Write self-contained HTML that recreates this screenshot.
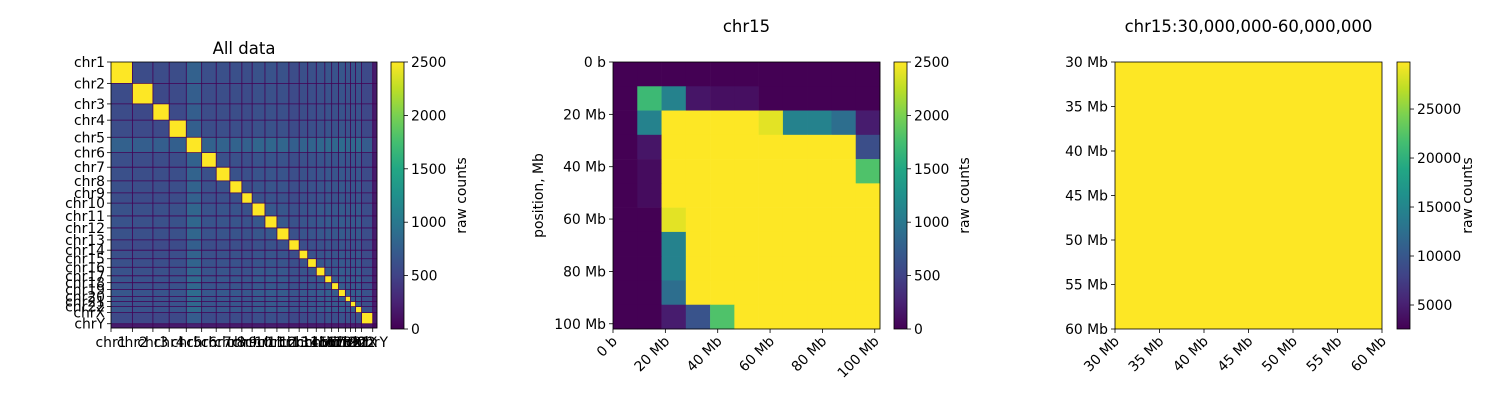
<!DOCTYPE html>
<html><head><meta charset="utf-8"><style>
body{margin:0;background:#fff;}
svg text{font-family:"DejaVu Sans","Liberation Sans",sans-serif;font-size:13.9px;fill:#000;}
</style></head><body>
<svg id="fig" width="1500" height="400" viewBox="0 0 1500 400" xmlns="http://www.w3.org/2000/svg">
<rect width="1500" height="400" fill="#fff"/>
<g id="p1"></g>
<g id="p2"></g>
<g id="p3"></g>
</svg>
<script>
// ---- data ----
const chromNames = ["chr1","chr2","chr3","chr4","chr5","chr6","chr7","chr8","chr9","chr10","chr11","chr12","chr13","chr14","chr15","chr16","chr17","chr18","chr19","chr20","chr21","chr22","chrX","chrY"];
const chromStartsMb = [0,250,490,680,880,1060,1230,1390,1530,1650,1800,1940,2080,2200,2300,2400,2500,2580,2660,2740,2800,2860,2930,3060];
const genomeEndMb = 3110;
const cisCounts = [2500,2500,2500,2500,2500,2500,2500,2500,2500,2500,2500,2500,2500,2500,2500,2500,2500,2500,2500,2500,2500,2500,2500,60];
const transLevel = [600,560,560,580,1000,620,640,640,600,680,700,680,580,640,660,700,760,700,780,740,720,760,540,60];

const chr15Values = [
 [0,0,0,0,0,0,0,0,0,0,0],
 [0,1700,1100,150,100,100,0,0,0,0,0],
 [0,1100,2500,2500,2500,2500,2400,1100,1100,900,200],
 [0,150,2500,2500,2500,2500,2500,2500,2500,2500,600],
 [0,80,2500,2500,2500,2500,2500,2500,2500,2500,1800],
 [0,80,2500,2500,2500,2500,2500,2500,2500,2500,2500],
 [0,0,2400,2500,2500,2500,2500,2500,2500,2500,2500],
 [0,0,1100,2500,2500,2500,2500,2500,2500,2500,2500],
 [0,0,1100,2500,2500,2500,2500,2500,2500,2500,2500],
 [0,0,900,2500,2500,2500,2500,2500,2500,2500,2500],
 [0,0,200,650,1800,2500,2500,2500,2500,2500,2500]];
const chr15EndMb = 102;
const chr15TicksMb = [0,20,40,60,80,100];
const chr15TickLabels = ["0 b","20 Mb","40 Mb","60 Mb","80 Mb","100 Mb"];
const regionValue = 31000;
const regionStartMb = 30, regionEndMb = 60;
const regionTicksMb = [30,35,40,45,50,55,60];
const cb12Ticks = [0,500,1000,1500,2000,2500];
const cb3Ticks = [5000,10000,15000,20000,25000];
const cb3Min = 2550, cb3Max = 29800;

// ---- helpers ----
const NS="http://www.w3.org/2000/svg";
const VIR=[[68,1,84],[72,35,116],[64,67,135],[52,94,141],[41,120,142],[32,144,140],[34,167,132],[68,190,112],[121,209,81],[189,222,38],[253,231,37]];
function viridis(t){t=Math.max(0,Math.min(1,t));const p=t*10,i=Math.min(9,Math.floor(p)),f=p-i;const a=VIR[i],b=VIR[i+1];return `rgb(${a.map((v,k)=>Math.round(v+(b[k]-v)*f)).join(",")})`;}
function el(parent,tag,attrs,text){const e=document.createElementNS(NS,tag);for(const k in attrs)e.setAttribute(k,attrs[k]);if(text!==undefined)e.textContent=text;parent.appendChild(e);return e;}
function colorbar(g,x,y0,y1,vmin,vmax,ticks,name){
  const defsId=name+"-grad";
  const defs=el(g,"defs",{});
  const lg=el(defs,"linearGradient",{id:defsId,x1:0,y1:1,x2:0,y2:0});
  for(let i=0;i<=10;i++)el(lg,"stop",{offset:i/10,"stop-color":viridis(i/10)});
  const r=el(g,"rect",{x:x,y:y0,width:13,height:y1-y0,fill:`url(#${defsId})`,stroke:"#000","stroke-width":0.8});
  
  
  const sc=v=>y1-(v-vmin)/(vmax-vmin)*(y1-y0);
  ticks.forEach(v=>{const yy=sc(v);el(g,"line",{x1:x+13,x2:x+17,y1:yy,y2:yy,stroke:"#000","stroke-width":0.8});
    const t=el(g,"text",{x:x+20,y:yy+5},String(v));
    
    });
  const lab=el(g,"text",{transform:`translate(${x+75},${(y0+y1)/2}) rotate(-90)`,"text-anchor":"middle"},"raw counts");
  
  
}

// ---- panel 1 ----
(function(){
  const g=document.getElementById("p1");
  const L=111,T=62,S=266;
  const sc=m=>m/genomeEndMb*S;
  const n=chromNames.length;
  const end=i=>i+1<n?chromStartsMb[i+1]:genomeEndMb;
  for(let i=0;i<n;i++)for(let j=0;j<n;j++){
    const v=i===j?cisCounts[i]:Math.sqrt(transLevel[i]*transLevel[j]);
    const r=el(g,"rect",{x:L+sc(chromStartsMb[j]),y:T+sc(chromStartsMb[i]),width:sc(end(j)-chromStartsMb[j])+0.3,height:sc(end(i)-chromStartsMb[i])+0.3,fill:viridis(v/2500)});
    
    
  }
  for(let i=1;i<n;i++){const p=sc(chromStartsMb[i]);
    el(g,"line",{x1:L+p,x2:L+p,y1:T,y2:T+S,stroke:"#440154","stroke-width":0.8});
    el(g,"line",{y1:T+p,y2:T+p,x1:L,x2:L+S,stroke:"#440154","stroke-width":0.8});}
  el(g,"rect",{x:L,y:T,width:S,height:S,fill:"none",stroke:"#000","stroke-width":0.8});
  chromNames.forEach((c,i)=>{const p=sc(chromStartsMb[i]);
    el(g,"line",{x1:L-4,x2:L,y1:T+p,y2:T+p,stroke:"#000","stroke-width":0.8});
    const t=el(g,"text",{x:L-6,y:T+p+5,"text-anchor":"end"},c);
    
    
    el(g,"line",{x1:L+p,x2:L+p,y1:T+S,y2:T+S+4,stroke:"#000","stroke-width":0.8});
    const tx=el(g,"text",{x:L+p,y:T+S+19,"text-anchor":"middle"},c);
    
    });
  const ti=el(g,"text",{x:L+S/2,y:54,"text-anchor":"middle",style:"font-size:16.5px"},"All data");
  
  
  colorbar(g,391,62,329,0,2500,cb12Ticks,"colorbar-all");
})();

// ---- panel 2 ----
(function(){
  const g=document.getElementById("p2");
  const L=613,T=62,S=267;
  const sc=m=>m/chr15EndMb*S;
  const n=chr15Values.length, cw=S/n;
  chr15Values.forEach((row,i)=>row.forEach((v,j)=>{
    const r=el(g,"rect",{x:L+j*cw,y:T+i*cw,width:cw+0.3,height:cw+0.3,fill:viridis(v/2500)});
    
    }));
  el(g,"rect",{x:L,y:T,width:S,height:S,fill:"none",stroke:"#000","stroke-width":0.8});
  chr15TicksMb.forEach((m,i)=>{const p=sc(m);
    el(g,"line",{x1:L-4,x2:L,y1:T+p,y2:T+p,stroke:"#000","stroke-width":0.8});
    const t=el(g,"text",{x:L-7,y:T+p+5,"text-anchor":"end"},chr15TickLabels[i]);
    
    
    el(g,"line",{x1:L+p,x2:L+p,y1:T+S,y2:T+S+4,stroke:"#000","stroke-width":0.8});
    const tx=el(g,"text",{transform:`translate(${L+p+5},${T+S+13}) rotate(-45)`,"text-anchor":"end"},chr15TickLabels[i]);
    
    });
  const yl=el(g,"text",{transform:`translate(543,${T+S/2}) rotate(-90)`,"text-anchor":"middle"},"position, Mb");
  
  
  const ti=el(g,"text",{x:L+S/2,y:32,"text-anchor":"middle",style:"font-size:16.5px"},"chr15");
  
  
  colorbar(g,894,62,329,0,2500,cb12Ticks,"colorbar-chr15");
})();

// ---- panel 3 ----
(function(){
  const g=document.getElementById("p3");
  const L=1115,T=62,S=267;
  const sc=m=>(m-regionStartMb)/(regionEndMb-regionStartMb)*S;
  const r=el(g,"rect",{x:L,y:T,width:S,height:S,fill:viridis((regionValue-cb3Min)/(cb3Max-cb3Min)),stroke:"#000","stroke-width":0.8});
  
  
  regionTicksMb.forEach(m=>{const p=sc(m);const lab=m+" Mb";
    el(g,"line",{x1:L-4,x2:L,y1:T+p,y2:T+p,stroke:"#000","stroke-width":0.8});
    const t=el(g,"text",{x:L-7,y:T+p+5,"text-anchor":"end"},lab);
    
    
    el(g,"line",{x1:L+p,x2:L+p,y1:T+S,y2:T+S+4,stroke:"#000","stroke-width":0.8});
    const tx=el(g,"text",{transform:`translate(${L+p+5},${T+S+13}) rotate(-45)`,"text-anchor":"end"},lab);
    
    });
  const ti=el(g,"text",{x:L+S/2,y:32,"text-anchor":"middle",style:"font-size:16.5px"},"chr15:30,000,000-60,000,000");
  
  
  colorbar(g,1397,62,329,cb3Min,cb3Max,cb3Ticks,"colorbar-region");
})();
</script>
</body></html>
